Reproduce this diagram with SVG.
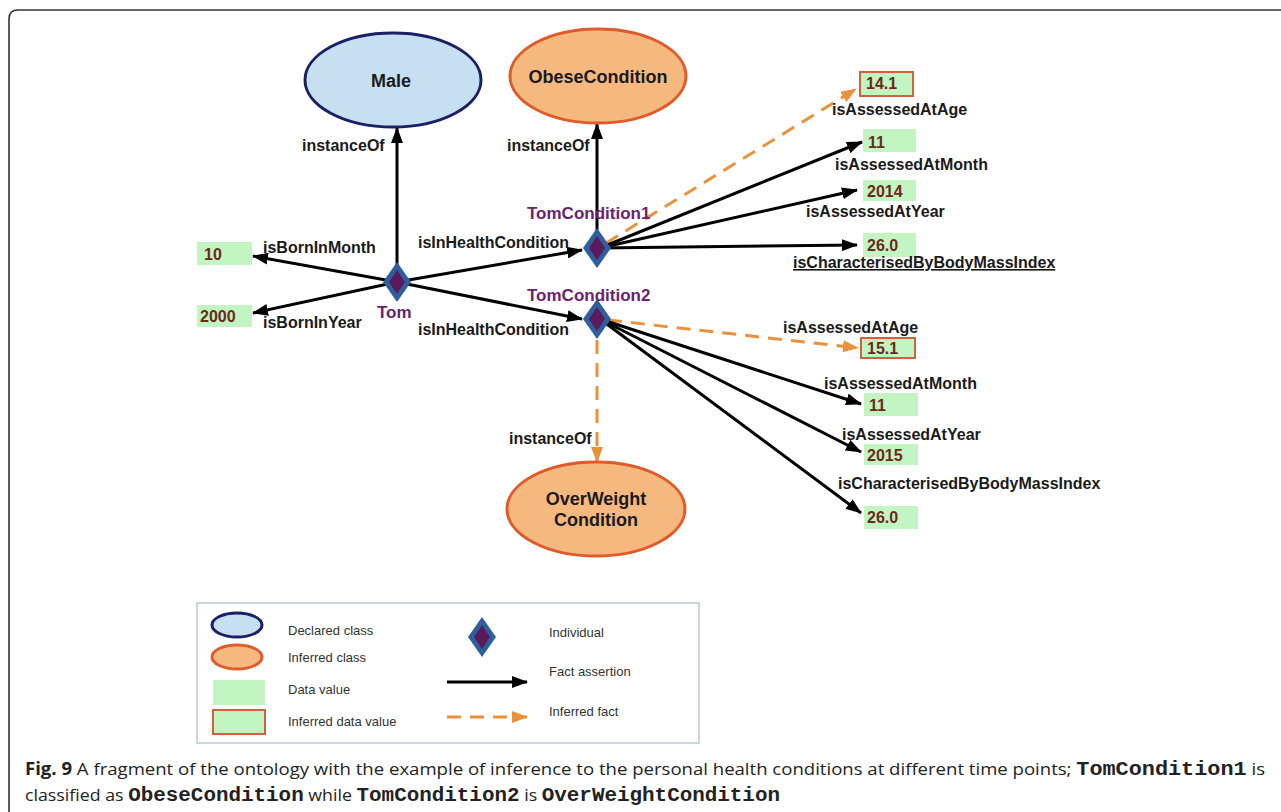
<svg xmlns="http://www.w3.org/2000/svg" width="1281" height="812" viewBox="0 0 1281 812">
  <style>
    .lbl { font-family: "Liberation Sans", Arial, sans-serif; font-weight: bold; font-size: 16px; fill: #1a1a1a; }
    .cls { font-family: "Liberation Sans", Arial, sans-serif; font-weight: bold; font-size: 18px; fill: #1a1a1a; text-anchor: middle; }
    .ind { font-family: "Liberation Sans", Arial, sans-serif; font-weight: bold; font-size: 17px; fill: #6a2270; }
    .val { font-family: "Liberation Sans", Arial, sans-serif; font-weight: bold; font-size: 16px; fill: #6b2a18; }
    .leg { font-family: "Liberation Sans", Arial, sans-serif; font-size: 13px; fill: #333; }
    .declared { fill: #c6e0f1; stroke: #1b1f66; stroke-width: 3; }
    .inferred { fill: #f5b97f; stroke: #e15a2a; stroke-width: 3; }
    .data { fill: #c3f5c3; }
    .idata { fill: #c3f5c3; stroke: #d0623c; stroke-width: 2; }
    .outer { fill: #2f5e9c; }
    .inner { fill: #5a1a5c; }
    .fact { stroke: #000; stroke-width: 3; fill: none; marker-end: url(#ah); }
    .infer { stroke: #ea913c; stroke-width: 3; fill: none; stroke-dasharray: 14 9; marker-end: url(#ahO); }
    .cap { font-family: "Open Sans", "Noto Sans", sans-serif; font-size: 17px; fill: #222; }
    .mono { font-family: "Liberation Mono", "Courier New", monospace; font-weight: bold; font-size: 20px; }
  </style>
  <defs>
    <marker id="ah" markerUnits="userSpaceOnUse" markerWidth="16" markerHeight="12" refX="15" refY="6" orient="auto">
      <path d="M0,0 L16,6 L0,12 Z" fill="#000"/>
    </marker>
    <marker id="ahO" markerUnits="userSpaceOnUse" markerWidth="16" markerHeight="12" refX="15" refY="6" orient="auto">
      <path d="M0,0 L16,6 L0,12 Z" fill="#ea913c"/>
    </marker>
    <g id="diamond">
      <polygon class="outer" points="0,-20 14,0 0,20 -14,0"/>
      <polygon class="inner" points="0,-12 8,0 0,12 -8,0"/>
    </g>
  </defs>

  <rect width="1281" height="812" fill="#fff"/>
  <!-- figure frame -->
  <path d="M1281,10 H18 Q9,10 9,19 V812" fill="none" stroke="#333" stroke-width="1.6"/>

  <!-- connectors -->
  <g id="connectors">
    <line class="fact" x1="397" y1="282" x2="397" y2="128"/>
    <line class="fact" x1="397" y1="282" x2="253" y2="256"/>
    <line class="fact" x1="397" y1="282" x2="253" y2="313"/>
    <line class="fact" x1="397" y1="282" x2="582" y2="250"/>
    <line class="fact" x1="397" y1="282" x2="582" y2="319"/>
    <line class="fact" x1="597" y1="248" x2="597" y2="124"/>
    <line class="infer" x1="606" y1="243" x2="856" y2="89"/>
    <line class="fact" x1="600" y1="248" x2="862" y2="142"/>
    <line class="fact" x1="600" y1="248" x2="857" y2="190"/>
    <line class="fact" x1="600" y1="248" x2="857" y2="245"/>
    <line class="infer" x1="608" y1="320" x2="858" y2="348"/>
    <line class="fact" x1="600" y1="319" x2="861" y2="404"/>
    <line class="fact" x1="600" y1="319" x2="861" y2="452"/>
    <line class="fact" x1="600" y1="319" x2="861" y2="513"/>
    <line class="infer" x1="597" y1="340" x2="597" y2="462"/>
  </g>

  <!-- classes -->
  <g id="male">
    <ellipse class="declared" cx="393" cy="80" rx="88" ry="47"/>
    <text class="cls" x="391" y="87">Male</text>
  </g>
  <g id="obese">
    <ellipse class="inferred" cx="598" cy="76" rx="88" ry="47"/>
    <text class="cls" x="598" y="83">ObeseCondition</text>
  </g>
  <g id="overweight">
    <ellipse class="inferred" cx="596" cy="509" rx="89" ry="47"/>
    <text class="cls" x="596" y="505">OverWeight</text>
    <text class="cls" x="596" y="526">Condition</text>
  </g>

  <!-- individuals -->
  <g id="tom">
    <use href="#diamond" x="397" y="282"/>
    <text class="ind" x="377" y="318">Tom</text>
  </g>
  <g id="tomcondition1">
    <use href="#diamond" x="597" y="248"/>
    <text class="ind" x="527" y="219">TomCondition1</text>
  </g>
  <g id="tomcondition2">
    <use href="#diamond" x="597" y="319"/>
    <text class="ind" x="527" y="301">TomCondition2</text>
  </g>

  <!-- data values -->
  <g id="v-month"><rect class="data" x="197" y="242" width="55" height="23"/><text class="val" x="204" y="260">10</text></g>
  <g id="v-year"><rect class="data" x="197" y="305" width="55" height="22"/><text class="val" x="200" y="322">2000</text></g>
  <g id="v-age1"><rect class="idata" x="860" y="72" width="53" height="24"/><text class="val" x="866" y="89">14.1</text></g>
  <g id="v-month1"><rect class="data" x="863" y="129" width="53" height="23"/><text class="val" x="868" y="148">11</text></g>
  <g id="v-year1"><rect class="data" x="863" y="180" width="53" height="21"/><text class="val" x="867" y="197">2014</text></g>
  <g id="v-bmi1"><rect class="data" x="863" y="233" width="53" height="24"/><text class="val" x="867" y="251">26.0</text></g>
  <g id="v-age2"><rect class="idata" x="861" y="338" width="54" height="20"/><text class="val" x="867" y="354">15.1</text></g>
  <g id="v-month2"><rect class="data" x="864" y="393" width="54" height="23"/><text class="val" x="869" y="411">11</text></g>
  <g id="v-year2"><rect class="data" x="864" y="444" width="54" height="21"/><text class="val" x="867" y="461">2015</text></g>
  <g id="v-bmi2"><rect class="data" x="864" y="506" width="54" height="23"/><text class="val" x="867" y="523">26.0</text></g>

  <!-- property labels -->
  <g id="labels">
    <text class="lbl" x="302" y="151">instanceOf</text>
    <text class="lbl" x="507" y="151">instanceOf</text>
    <text class="lbl" x="509" y="444">instanceOf</text>
    <text class="lbl" x="263" y="253">isBornInMonth</text>
    <text class="lbl" x="263" y="328">isBornInYear</text>
    <text class="lbl" x="418" y="248">isInHealthCondition</text>
    <text class="lbl" x="418" y="335">isInHealthCondition</text>
    <text class="lbl" x="832" y="115">isAssessedAtAge</text>
    <text class="lbl" x="835" y="170">isAssessedAtMonth</text>
    <text class="lbl" x="806" y="217">isAssessedAtYear</text>
    <text class="lbl" x="793" y="268" text-decoration="underline">isCharacterisedByBodyMassIndex</text>
    <text class="lbl" x="783" y="333">isAssessedAtAge</text>
    <text class="lbl" x="824" y="389">isAssessedAtMonth</text>
    <text class="lbl" x="842" y="440">isAssessedAtYear</text>
    <text class="lbl" x="838" y="489">isCharacterisedByBodyMassIndex</text>
  </g>

  <!-- legend -->
  <g id="legend">
    <rect x="197" y="603" width="502" height="140" fill="#fff" stroke="#b9c7d6" stroke-width="1.5"/>
    <ellipse class="declared" cx="237" cy="625" rx="25" ry="12"/>
    <ellipse class="inferred" cx="237" cy="657" rx="25" ry="12"/>
    <rect class="data" x="213" y="680" width="52" height="25"/>
    <rect class="idata" x="213" y="710" width="52" height="24"/>
    <text class="leg" x="288" y="635">Declared class</text>
    <text class="leg" x="288" y="662">Inferred class</text>
    <text class="leg" x="288" y="694">Data value</text>
    <text class="leg" x="288" y="726">Inferred data value</text>
    <use href="#diamond" x="482" y="637"/>
    <line class="fact" x1="447" y1="682" x2="527" y2="682"/>
    <line class="infer" x1="447" y1="717" x2="527" y2="717"/>
    <text class="leg" x="549" y="637">Individual</text>
    <text class="leg" x="549" y="676">Fact assertion</text>
    <text class="leg" x="549" y="716">Inferred fact</text>
  </g>

  <!-- caption -->
  <g id="caption">
    <text class="cap" x="25" y="775" textLength="1240" lengthAdjust="spacingAndGlyphs"><tspan font-weight="bold">Fig. 9</tspan> A fragment of the ontology with the example of inference to the personal health conditions at different time points; <tspan class="mono">TomCondition1</tspan> is</text>
    <text class="cap" x="25" y="801" textLength="755" lengthAdjust="spacingAndGlyphs">classified as <tspan class="mono">ObeseCondition</tspan> while <tspan class="mono">TomCondition2</tspan> is <tspan class="mono">OverWeightCondition</tspan></text>
  </g>
</svg>
